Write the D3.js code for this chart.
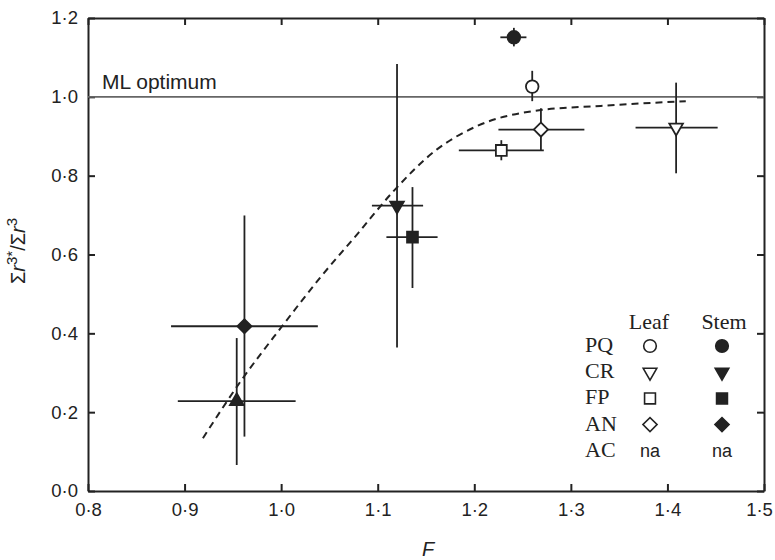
<!DOCTYPE html>
<html lang="en">
<head>
    <meta charset="UTF-8">
    <title>F vs Murray ratio</title>
    <script src="https://d3js.org/d3.v7.min.js"></script>
    <style>
        body { margin: 0; background: #fff; }
        svg { display: block; }
        text { font-family: "Liberation Sans", Arial, sans-serif; fill: #222; }
    </style>
</head>
<body>
<script>
    // data
    var species = ["PQ", "PQ", "CR", "AN", "FP", "CR", "FP", "AN", "AC"];
    var tissue  = ["stem", "leaf", "leaf", "leaf", "leaf", "stem", "stem", "stem", "stem"];
    var fMean = [1.241, 1.260, 1.409, 1.269, 1.228, 1.120, 1.136, 0.962, 0.954];
    var fLow  = [1.227, 1.260, 1.367, 1.225, 1.184, 1.094, 1.109, 0.886, 0.893];
    var fHigh = [1.254, 1.260, 1.452, 1.314, 1.272, 1.147, 1.162, 1.038, 1.015];
    var rMean = [1.151, 1.026, 0.922, 0.917, 0.864, 0.724, 0.644, 0.418, 0.228];
    var rLow  = [1.128, 0.989, 0.806, 0.865, 0.839, 0.364, 0.515, 0.138, 0.066];
    var rHigh = [1.175, 1.066, 1.036, 0.971, 0.890, 1.083, 0.771, 0.699, 0.388];

    // fitted curve (dashed)
    var curveF = [0.919, 0.960, 1.000, 1.040, 1.080, 1.115, 1.161, 1.203, 1.261, 1.331, 1.419];
    var curveR = [0.134, 0.285, 0.415, 0.540, 0.655, 0.757, 0.866, 0.926, 0.964, 0.977, 0.989];

    var xTicks = [0.8, 0.9, 1.0, 1.1, 1.2, 1.3, 1.4, 1.5];
    var yTicks = [0.0, 0.2, 0.4, 0.6, 0.8, 1.0, 1.2];
    var optimum = 1.0;

    var legendRows = ["PQ", "CR", "FP", "AN", "AC"];
    var legendCols = ["Leaf", "Stem"];

    var w = 775;
    var h = 560;
    var margin = {top: 18, right: 11, bottom: 69, left: 88};

    var svg = d3.select("body")
        .append("svg")
        .attr("width", w)
        .attr("height", h);

    var x = d3.scaleLinear()
        .domain([0.8, 1.5])
        .range([margin.left, w - margin.right]);

    var y = d3.scaleLinear()
        .domain([0, 1.2])
        .range([h - margin.bottom, margin.top]);

    var fmt = function(d) { return d3.format(".1f")(d).replace(".", "\u00b7"); };

    var shapes = {
        PQ: {type: d3.symbolCircle, size: 125, rot: 0},
        CR: {type: d3.symbolTriangle, size: 80, rot: 180},
        FP: {type: d3.symbolSquare, size: 118, rot: 0},
        AN: {type: d3.symbolSquare, size: 100, rot: 45},
        AC: {type: d3.symbolTriangle, size: 80, rot: 0}
    };

    // axes (ticks inward on all four sides)
    var xAxis = svg.append("g")
        .attr("transform", "translate(0," + (h - margin.bottom) + ")")
        .call(d3.axisBottom(x).tickValues(xTicks).tickFormat(fmt).tickSizeInner(-7).tickSizeOuter(0).tickPadding(12));
    svg.append("g")
        .attr("transform", "translate(0," + margin.top + ")")
        .call(d3.axisTop(x).tickValues(xTicks).tickFormat("").tickSizeInner(-7).tickSizeOuter(0));
    svg.append("g")
        .attr("transform", "translate(" + margin.left + ",0)")
        .call(d3.axisLeft(y).tickValues(yTicks).tickFormat(fmt).tickSizeInner(-7).tickSizeOuter(0).tickPadding(10));
    svg.append("g")
        .attr("transform", "translate(" + (w - margin.right) + ",0)")
        .call(d3.axisRight(y).tickValues(yTicks).tickFormat("").tickSizeInner(-7).tickSizeOuter(0));

    svg.selectAll(".domain").attr("stroke", "#222").attr("stroke-width", 2);
    svg.selectAll(".tick line").attr("stroke", "#222").attr("stroke-width", 2);
    svg.selectAll(".tick text")
        .style("font-size", "18.5px")
        .attr("fill", "#222");

    // last x label sits against the page edge
    xAxis.selectAll(".tick text")
        .filter(function(d) { return d == 1.5; })
        .attr("dx", -5);

    // ML optimum line
    svg.append("line")
        .attr("x1", x(0.8))
        .attr("x2", x(1.5))
        .attr("y1", y(optimum))
        .attr("y2", y(optimum))
        .attr("stroke", "#666")
        .attr("stroke-width", 1.6);

    svg.append("text")
        .attr("x", x(0.8) + 14)
        .attr("y", y(optimum) - 8)
        .style("font-size", "21px")
        .text("ML optimum");

    // dashed fit
    var line = d3.line()
        .x(function(d) { return x(d[0]); })
        .y(function(d) { return y(d[1]); })
        .curve(d3.curveMonotoneX);

    svg.append("path")
        .datum(d3.zip(curveF, curveR))
        .attr("d", line)
        .attr("fill", "none")
        .attr("stroke", "#222")
        .attr("stroke-width", 2)
        .attr("stroke-dasharray", "7,5");

    var points = d3.range(fMean.length).map(function(i) {
        return {
            sp: species[i], tissue: tissue[i],
            f: fMean[i], fl: fLow[i], fh: fHigh[i],
            r: rMean[i], rl: rLow[i], rh: rHigh[i]
        };
    });

    // error bars
    var bars = svg.append("g").attr("stroke", "#222").attr("stroke-width", 1.8);
    bars.selectAll(".hbar")
        .data(points.filter(function(d) { return d.fh > d.fl; }))
        .enter()
        .append("line")
        .attr("x1", function(d) { return x(d.fl); })
        .attr("x2", function(d) { return x(d.fh); })
        .attr("y1", function(d) { return y(d.r); })
        .attr("y2", function(d) { return y(d.r); });
    bars.selectAll(".vbar")
        .data(points)
        .enter()
        .append("line")
        .attr("x1", function(d) { return x(d.f); })
        .attr("x2", function(d) { return x(d.f); })
        .attr("y1", function(d) { return y(d.rl); })
        .attr("y2", function(d) { return y(d.rh); });

    function symbolPath(sp) {
        return d3.symbol().type(shapes[sp].type).size(shapes[sp].size)();
    }

    // markers
    svg.selectAll(".pt")
        .data(points)
        .enter()
        .append("path")
        .attr("d", function(d) { return symbolPath(d.sp); })
        .attr("transform", function(d) {
            return "translate(" + x(d.f) + "," + y(d.r) + ") rotate(" + shapes[d.sp].rot + ")";
        })
        .attr("fill", function(d) { return d.tissue == "leaf" ? "#fff" : "#222"; })
        .attr("stroke", "#222")
        .attr("stroke-width", 1.8);

    // legend
    var lg = svg.append("g");
    var rowX = 585, leafX = 650, stemX = 722, headY = 329, firstY = 352, step = 26.2;
    var serif = "'Liberation Serif', 'Times New Roman', serif";

    lg.selectAll(".head")
        .data(legendCols)
        .enter()
        .append("text")
        .attr("x", function(d, i) { return i == 0 ? leafX - 1 : stemX + 2; })
        .attr("y", headY)
        .attr("text-anchor", "middle")
        .style("font-family", serif)
        .style("font-size", "22px")
        .text(function(d) { return d; });

    lg.selectAll(".row")
        .data(legendRows)
        .enter()
        .append("text")
        .attr("x", rowX)
        .attr("y", function(d, i) { return firstY + i * step; })
        .style("font-family", serif)
        .style("font-size", "22px")
        .text(function(d) { return d; });

    legendRows.forEach(function(sp, i) {
        var cy = firstY + i * step - 6;
        [leafX, stemX].forEach(function(cx, j) {
            if (sp == "AC") {
                lg.append("text")
                    .attr("x", cx)
                    .attr("y", firstY + i * step)
                    .attr("text-anchor", "middle")
                    .style("font-size", "18px")
                    .text("na");
            } else {
                lg.append("path")
                    .attr("d", symbolPath(sp))
                    .attr("transform", "translate(" + cx + "," + cy + ") rotate(" + shapes[sp].rot + ")")
                    .attr("fill", j == 0 ? "#fff" : "#222")
                    .attr("stroke", "#222")
                    .attr("stroke-width", 1.6);
            }
        });
    });

    // axis titles
    svg.append("text")
        .attr("x", 428)
        .attr("y", 556)
        .attr("text-anchor", "middle")
        .style("font-size", "20px")
        .style("font-style", "italic")
        .text("F");

    var yl = svg.append("text")
        .attr("transform", "translate(25,251) rotate(-90)")
        .attr("text-anchor", "middle")
        .style("font-size", "20px");
    yl.append("tspan").text("\u03a3");
    yl.append("tspan").style("font-style", "italic").text("r");
    yl.append("tspan").attr("dy", -8).style("font-size", "15px").text("3*");
    yl.append("tspan").attr("dy", 8).text("/\u03a3");
    yl.append("tspan").style("font-style", "italic").text("r");
    yl.append("tspan").attr("dy", -8).style("font-size", "15px").text("3");
</script>
</body>
</html>
